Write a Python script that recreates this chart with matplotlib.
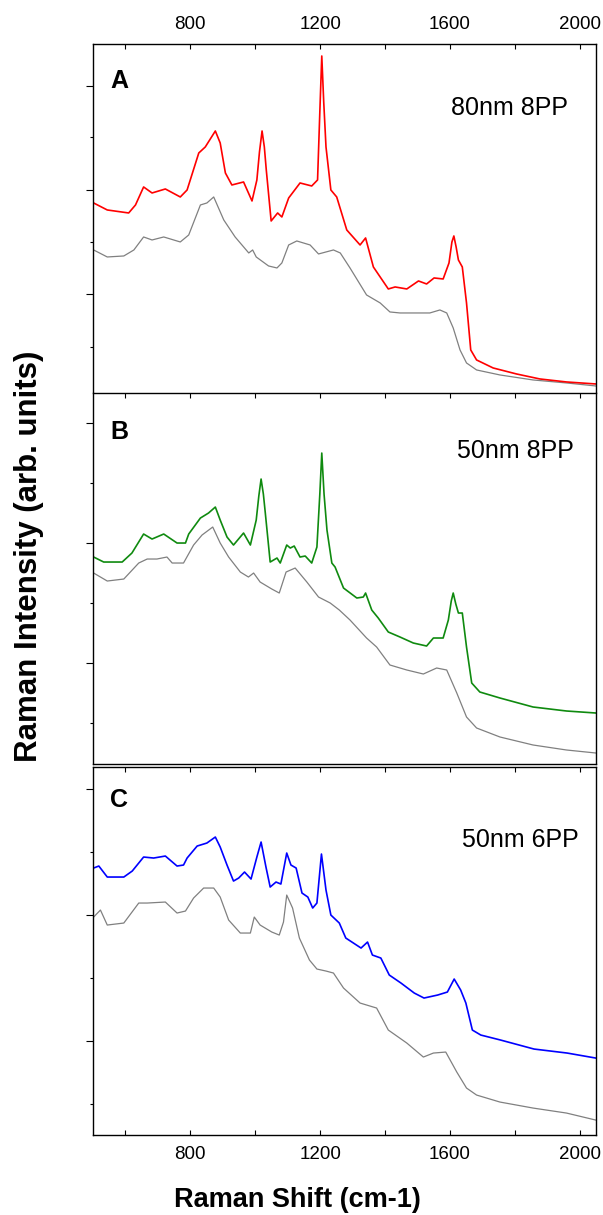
"""
Raman spectra of three samples (A, B, C), each shown with its gray reference
spectrum, stacked on a shared Raman-shift axis.
"""
import matplotlib.pyplot as plt
from matplotlib.ticker import MultipleLocator, NullFormatter

plt.rcParams["font.family"] = ["Liberation Sans", "DejaVu Sans"]

# ---- panel A: 80nm 8PP ----
a_wn = [502, 544, 610, 631, 656, 682, 723, 769, 790, 826, 846, 877, 892, 908, 928,
        964, 990, 1005, 1013, 1021, 1028, 1034, 1049, 1069, 1082, 1103, 1138, 1174, 1192,
        1199, 1205, 1211, 1218, 1233, 1251, 1282, 1323, 1340, 1364, 1410, 1431, 1467,
        1503, 1528, 1551, 1579, 1597, 1606, 1612, 1619, 1626, 1638, 1651, 1664, 1682,
        1733, 1805, 1877, 1959, 2049]
a_sample = [189, 182, 179, 187, 205, 199, 203, 195, 202, 239, 245, 261, 249, 219, 207,
            210, 191, 212, 240, 261, 245, 222, 171, 179, 175, 194, 209, 206, 212,
            280, 336, 290, 245, 202, 195, 162, 147, 154, 125, 103, 105, 103,
            111, 108, 114, 113, 129, 150, 156, 145, 132, 125, 89, 42, 32,
            24, 18, 13, 10, 8]
a_ref_wn = [502, 544, 595, 626, 656, 682, 718, 769, 795, 831, 851, 872, 903, 938, 980,
            992, 1003, 1041, 1067, 1082, 1103, 1128, 1169, 1195, 1241, 1262, 1292, 1343,
            1385, 1415, 1446, 1497, 1538, 1569, 1590, 1610, 1631, 1651, 1682, 1754, 1856,
            1959, 2049]
a_ref = [142, 135, 136, 142, 155, 152, 155, 150, 157, 187, 189, 195, 172, 155, 139,
         142, 135, 126, 124, 129, 147, 151, 147, 138, 142, 139, 124, 97,
         89, 80, 79, 79, 79, 82, 79, 64, 42, 29, 22, 17, 12,
         9, 6]

# ---- panel B: 50nm 8PP ----
b_wn = [502, 533, 590, 620, 656, 682, 718, 759, 785, 795, 831, 856, 877, 892, 913,
        933, 964, 985, 1003, 1011, 1018, 1025, 1031, 1046, 1067, 1077, 1097, 1108, 1120,
        1138, 1154, 1174, 1190, 1199, 1205, 1212, 1221, 1236, 1246, 1272, 1313, 1333,
        1340, 1359, 1379, 1410, 1446, 1487, 1528, 1549, 1579, 1595, 1604, 1610, 1618,
        1626, 1638, 1651, 1667, 1692, 1754, 1856, 1959, 2049]
b_sample = [207, 202, 202, 211, 230, 225, 230, 221, 221, 230, 246, 251, 257, 244, 227,
            219, 231, 219, 244, 268, 285, 270, 251, 202, 206, 201, 219, 216, 218,
            207, 208, 201, 217, 270, 311, 270, 234, 201, 197, 176, 166, 167,
            171, 154, 146, 132, 127, 121, 118, 126, 126, 144, 163, 171, 160,
            151, 151, 117, 81, 72, 66, 57, 53, 51]
b_ref_wn = [502, 544, 595, 641, 667, 697, 728, 744, 779, 810, 836, 869, 892, 918, 954,
            979, 995, 1015, 1051, 1074, 1095, 1123, 1159, 1195, 1231, 1259, 1292, 1343,
            1374, 1415, 1467, 1518, 1559, 1590, 1621, 1651, 1682, 1754, 1856, 1959, 2049]
b_ref = [191, 183, 185, 201, 205, 205, 207, 201, 201, 219, 229, 237, 221, 207, 192,
         187, 191, 182, 175, 171, 192, 196, 182, 167, 161, 154, 144, 126,
         117, 99, 94, 90, 96, 94, 71, 47, 36, 27, 19, 14, 11]

# ---- panel C: 50nm 6PP ----
c_wn = [502, 518, 544, 595, 621, 656, 687, 723, 759, 779, 790, 821, 851, 877, 892,
        913, 933, 949, 967, 987, 1005, 1018, 1033, 1046, 1064, 1079, 1097, 1110, 1126,
        1144, 1162, 1177, 1190, 1204, 1218, 1233, 1259, 1279, 1326, 1346, 1361, 1387,
        1413, 1449, 1490, 1520, 1562, 1592, 1613, 1633, 1649, 1669, 1695, 1756, 1859,
        1961, 2049]
c_sample = [267, 269, 258, 258, 264, 278, 277, 279, 269, 270, 277, 289, 292, 298, 288,
            270, 254, 257, 263, 256, 278, 293, 268, 248, 253, 251, 282, 270, 267,
            242, 238, 227, 232, 281, 245, 220, 212, 197, 187, 193, 180, 177,
            160, 152, 142, 137, 140, 143, 156, 145, 132, 105, 100, 95, 86,
            82, 77]
c_ref_wn = [502, 523, 544, 595, 641, 667, 723, 759, 785, 810, 841, 872, 892, 918, 954,
            985, 997, 1015, 1051, 1074, 1087, 1097, 1115, 1136, 1167, 1190, 1218, 1241,
            1272, 1323, 1374, 1410, 1467, 1518, 1549, 1587, 1621, 1651, 1682, 1754, 1856,
            1959, 2049]
c_ref = [218, 225, 210, 212, 232, 232, 233, 222, 224, 237, 247, 247, 238, 215, 202,
         202, 218, 210, 203, 200, 213, 240, 227, 197, 175, 166, 164, 162,
         147, 132, 127, 105, 92, 78, 82, 83, 63, 47, 40, 33, 27,
         22, 15]

panels = [
    ("A", "80nm 8PP", a_wn, a_sample, a_ref_wn, a_ref, "#ff0000"),
    ("B", "50nm 8PP", b_wn, b_sample, b_ref_wn, b_ref, "#0f8a0f"),
    ("C", "50nm 6PP", c_wn, c_sample, c_ref_wn, c_ref, "#0000ff"),
]

# layout (figure fractions) and per-panel y ranges / ticks
rects = [(0.1542, 0.6774, 0.8342, 0.2864),
         (0.1542, 0.3712, 0.8342, 0.3053),
         (0.1542, 0.0658, 0.8342, 0.3029)]
ylims = [348, 371, 368]
ymajor = [[98, 202, 306], [101, 221, 341], [94, 220, 346]]
yminor = [[45, 150, 255], [41, 161, 281], [31, 157, 283]]
letter_y = [0.894, 0.895, 0.910]
name_xy = [(0.712, 0.816), (0.724, 0.844), (0.734, 0.802)]

fig = plt.figure(figsize=(6.03, 12.15), dpi=100)

for i, (letter, name, wn, ys, rwn, ry, color) in enumerate(panels):
    ax = fig.add_axes(rects[i])
    ax.plot(rwn, ry, color="#808080", lw=0.9)
    ax.plot(wn, ys, color=color, lw=1.2)
    ax.set_xlim(500, 2050)
    ax.set_ylim(0, ylims[i])

    ax.xaxis.set_major_locator(MultipleLocator(400))
    ax.xaxis.set_minor_locator(MultipleLocator(200))
    ax.tick_params(axis="x", which="both", direction="in", top=True,
                   bottom=(i == 2), length=3.5, width=0.8, labelsize=13.5,
                   labeltop=(i == 0), labelbottom=(i == 2))
    ax.tick_params(axis="x", pad=8)

    ax.set_yticks(ymajor[i])
    ax.set_yticks(yminor[i], minor=True)
    ax.yaxis.set_major_formatter(NullFormatter())
    ax.tick_params(axis="y", which="major", direction="out", length=5, width=0.8)
    ax.tick_params(axis="y", which="minor", direction="out", length=2.5, width=0.8)

    for sp in ax.spines.values():
        sp.set_linewidth(1.0)
    if i == 0:
        # panel B's top spine forms the shared border
        ax.spines["bottom"].set_visible(False)

    ax.text(0.034, letter_y[i], letter, transform=ax.transAxes, fontsize=18,
            fontweight="bold", va="center", ha="left")
    ax.text(name_xy[i][0], name_xy[i][1], name, transform=ax.transAxes,
            fontsize=18, va="center", ha="left")

fig.text(0.494, 0.0123, "Raman Shift (cm-1)", fontsize=19.5, fontweight="bold",
         ha="center", va="center")
fig.text(0.048, 0.542, "Raman Intensity (arb. units)", fontsize=22.5,
         fontweight="bold", rotation=90, ha="center", va="center")

fig.savefig("out.png", dpi=100)
